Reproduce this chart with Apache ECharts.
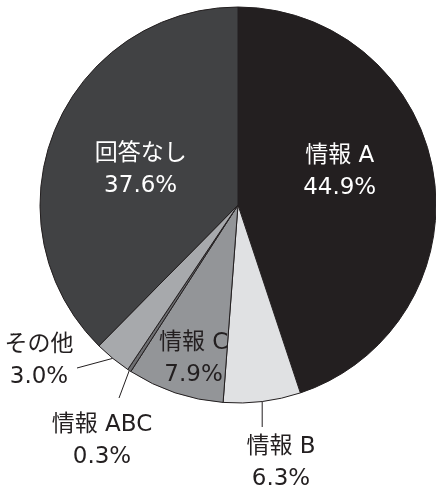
<!DOCTYPE html>
<html>
<head>
<meta charset="utf-8">
<script src="https://cdn.jsdelivr.net/npm/echarts@6/dist/echarts.min.js"></script>
<style>
  html, body { margin: 0; padding: 0; background: #fff; }
  #chart { width: 436px; height: 490px; }
</style>
</head>
<body>
<div id="chart"></div>
<script>
// 回答の内訳 (%)
var names  = ['情報 A', '情報 B', '情報 C', '情報 ABC', 'その他', '回答なし'];
var values = [44.9, 6.3, 7.9, 0.3, 3.0, 37.6];

var colors     = ['#231f20', '#e0e1e3', '#939598', '#6d6e71', '#a7a9ac', '#414244'];
var textColors = ['#ffffff', '#231f20', '#231f20', '#231f20', '#231f20', '#ffffff'];
var outside    = [false, true, false, true, true, false];

// label placement (inside: shift from default, outside: text centre + line end)
var labelPlace = [
  { dx: 1, dy: -17 },
  { x: 281, y: 463, end: [null, 427] },
  { dx: -12, dy: 57 },
  { x: 102, y: 441, end: [119, 398] },
  { x: 39, y: 361, end: [77, 368] },
  { dx: -3, dy: 4 }
];

var myChart = echarts.init(document.getElementById('chart'));

var seriesData = names.map(function (n, i) {
  return {
    name: n,
    value: values[i],
    itemStyle: { color: colors[i] },
    label: {
      position: outside[i] ? 'outside' : 'inside',
      color: textColors[i]
    },
    labelLine: { show: outside[i] }
  };
});

option = {
  backgroundColor: '#ffffff',
  animation: false,
  series: [
    {
      type: 'pie',
      center: [238, 205],
      radius: 198,
      startAngle: 90,
      clockwise: true,
      avoidLabelOverlap: false,
      itemStyle: { borderColor: '#231f20', borderWidth: 1 },
      emphasis: { disabled: true },
      label: {
        fontFamily: 'DejaVu Sans, Noto Sans CJK JP',
        fontSize: 23,
        lineHeight: 32,
        align: 'center',
        formatter: function (p) {
          return p.name + '\n' + p.value.toFixed(1) + '%';
        }
      },
      labelLine: {
        lineStyle: { color: '#231f20', width: 1 }
      },
      labelLayout: function (params) {
        var lp = labelPlace[params.dataIndex];
        if (lp.x == null) {
          return { dx: lp.dx, dy: lp.dy };
        }
        var p0 = params.labelLinePoints ? params.labelLinePoints[0] : null;
        var res = {
          x: lp.x,
          y: lp.y,
          align: 'center',
          verticalAlign: 'middle'
        };
        if (p0) {
          var ex = lp.end[0] == null ? p0[0] : lp.end[0];
          res.labelLinePoints = [p0, [ex, lp.end[1]]];
        }
        return res;
      },
      data: seriesData
    }
  ]
};

myChart.setOption(option);
</script>
</body>
</html>
